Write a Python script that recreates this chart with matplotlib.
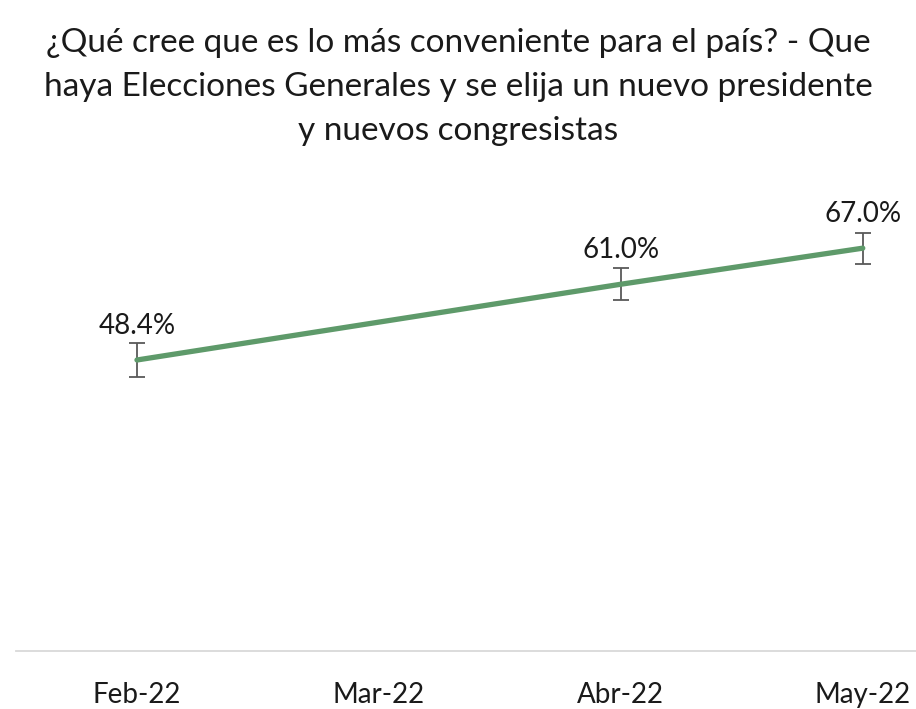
import matplotlib
matplotlib.use("Agg")
from matplotlib import pyplot as plt
import numpy as np

meses = ["Feb-22", "Mar-22", "Abr-22", "May-22"]
valores = [48.4, np.nan, 61.0, 67.0]
errores = [2.8, np.nan, 2.7, 2.6]

titulo = ("¿Qué cree que es lo más conveniente para el país? - Que\n"
          "haya Elecciones Generales y se elija un nuevo presidente\n"
          "y nuevos congresistas")

plt.rcParams['font.family'] = ['Lato', 'DejaVu Sans']

fig = plt.figure(figsize=(9.16, 7.09), dpi=100)
W, H = 916, 709
ax = fig.add_axes([16 / W, 1 - 651 / H, 1 - 16 / W, (651 - 170) / H])

x = np.arange(len(meses))
v = np.array(valores)
e = np.array(errores)
ok = ~np.isnan(v)

ax.plot(x[ok], v[ok], color="#5E9A6A", linewidth=3.8, solid_capstyle="round", zorder=3)
ax.errorbar(x[ok], v[ok], yerr=e[ok], fmt="none", ecolor="#595959",
            elinewidth=1.3, capsize=5.5, capthick=1.3, zorder=2)

for xi, vi, ei in zip(x[ok], v[ok], e[ok]):
    ax.annotate(f"{vi:.1f}%", (xi, vi), xytext=(0, 15), textcoords="offset points",
                ha="center", va="bottom", fontsize=20, color="#1a1a1a")

ax.set_xlim(-0.5, 3.22)
ax.set_ylim(0, 80)
ax.set_xticks(x)
ax.set_xticklabels(meses, fontsize=20, color="#1a1a1a")
ax.tick_params(axis="x", length=0, pad=22)
ax.set_yticks([])
for s in ["top", "right", "left"]:
    ax.spines[s].set_visible(False)
ax.spines["bottom"].set_color("#D9D9D9")
ax.spines["bottom"].set_linewidth(1.3)

fig.text(0.5, 1 - 87 / H, titulo, ha="center", va="center", fontsize=24,
         color="#1a1a1a", linespacing=1.58)

fig.savefig("out.png", dpi=100)
